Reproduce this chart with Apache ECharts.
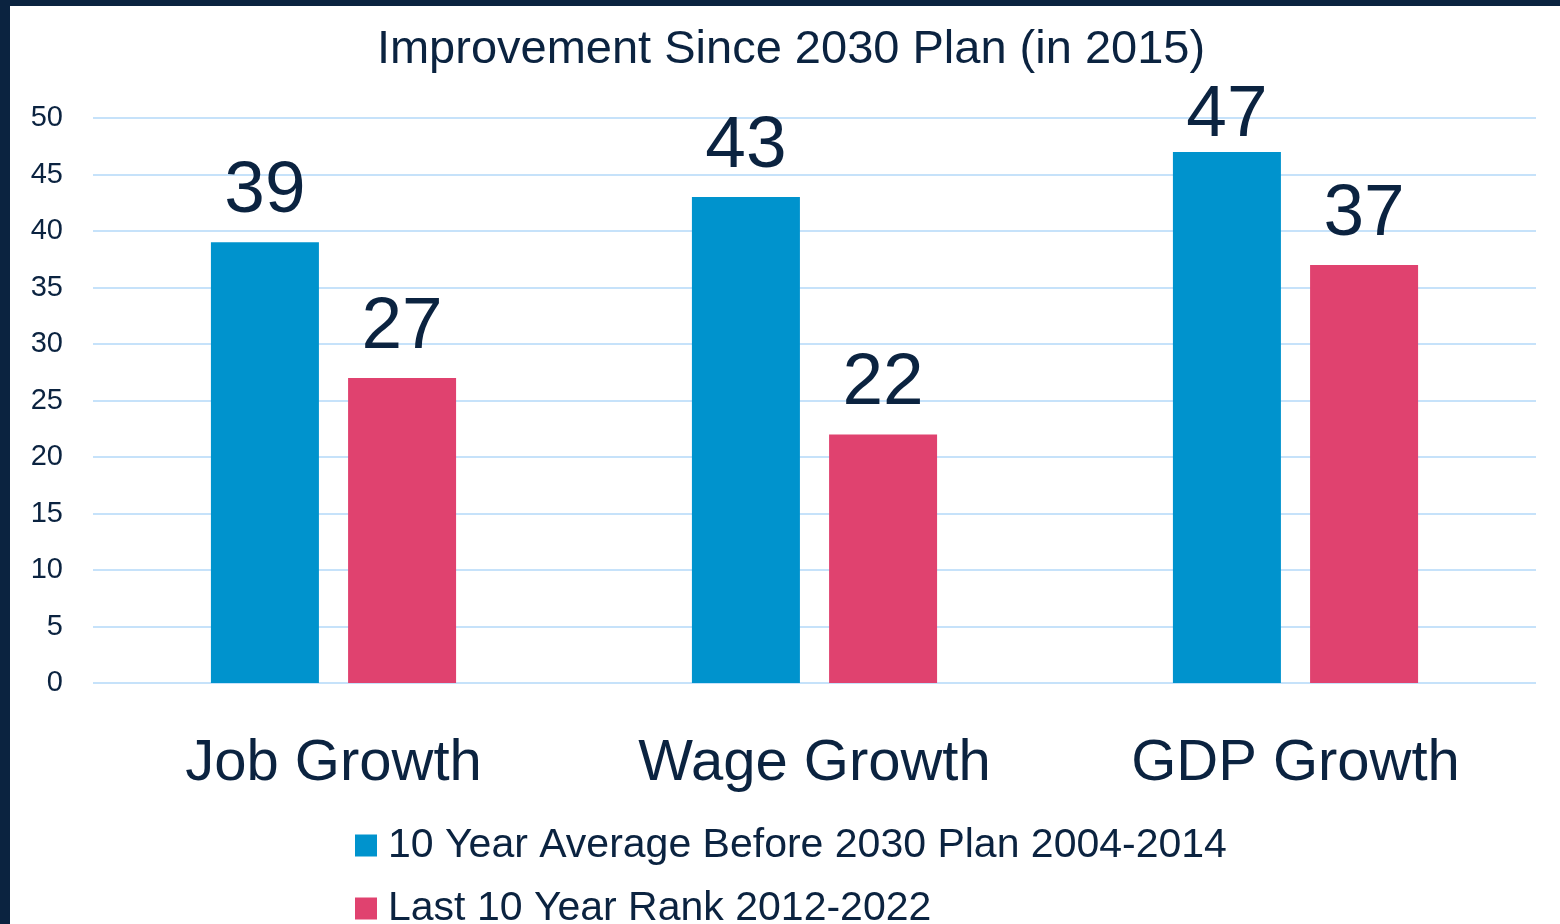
<!DOCTYPE html>
<html>
<head>
<meta charset="utf-8">
<script src="https://cdn.jsdelivr.net/npm/echarts@6/dist/echarts.min.js"></script>
<style>
  html, body { margin: 0; padding: 0; background: #0b2340; width: 1560px; height: 924px; overflow: hidden; }
  /* the white panel runs past the bottom edge of the page, so the last legend row is clipped */
  #chart { position: absolute; left: 10px; top: 6px; width: 1550px; height: 1000px; background: #ffffff; }
</style>
</head>
<body>
<div id="chart"></div>
<script>
// Categories and series values
const categories = ['Job Growth', 'Wage Growth', 'GDP Growth'];
const seriesNames = ['10 Year Average Before 2030 Plan 2004-2014', 'Last 10 Year Rank 2012-2022'];
const before2030 = [39, 43, 47];
const last10Years = [27, 22, 37];

const ink = '#0b2340';
const font = '"Liberation Sans", Arial, sans-serif';

// the tallest bar's label sits closer to its bar so it stays under the title
const tallest = Math.max(...before2030, ...last10Years);
const withLabels = vals => vals.map(v => v === tallest ? { value: v, label: { distance: 0 } } : v);

const chart = echarts.init(document.getElementById('chart'));
chart.setOption({
  animation: false,
  textStyle: { fontFamily: font, color: ink },
  title: {
    text: 'Improvement Since 2030 Plan (in 2015)',
    left: 776, top: 16, textAlign: 'center',
    textStyle: { fontFamily: font, fontSize: 47, fontWeight: 'normal', color: ink }
  },
  legend: {
    orient: 'vertical',
    left: 340, top: 814,
    itemWidth: 22, itemHeight: 22, itemGap: 22,
    icon: 'rect',
    textStyle: { fontFamily: font, fontSize: 41, color: ink, padding: [0, 0, 0, 6] },
    data: seriesNames
  },
  grid: { left: 83, right: 24, top: 112, bottom: 323, containLabel: false },
  xAxis: {
    type: 'category',
    data: categories,
    axisLine: { show: false },
    axisTick: { show: false },
    axisLabel: { interval: 0, fontFamily: font, fontSize: 58, color: ink, margin: 52 }
  },
  yAxis: {
    type: 'value',
    min: 0, max: 50, interval: 5,
    axisLine: { show: false },
    axisTick: { show: false },
    axisLabel: { fontFamily: font, fontSize: 29, color: ink, margin: 30 },
    splitLine: { lineStyle: { color: '#c6e2fa', width: 2 } }
  },
  series: [
    {
      name: seriesNames[0], type: 'bar', data: withLabels(before2030),
      barWidth: 108, barGap: '27%',
      itemStyle: { color: '#0093cd' },
      label: { show: true, position: 'top', distance: 14, fontFamily: font, fontSize: 73, color: ink }
    },
    {
      name: seriesNames[1], type: 'bar', data: withLabels(last10Years),
      barWidth: 108,
      itemStyle: { color: '#e0426f' },
      label: { show: true, position: 'top', distance: 14, fontFamily: font, fontSize: 73, color: ink }
    }
  ]
});
</script>
</body>
</html>
